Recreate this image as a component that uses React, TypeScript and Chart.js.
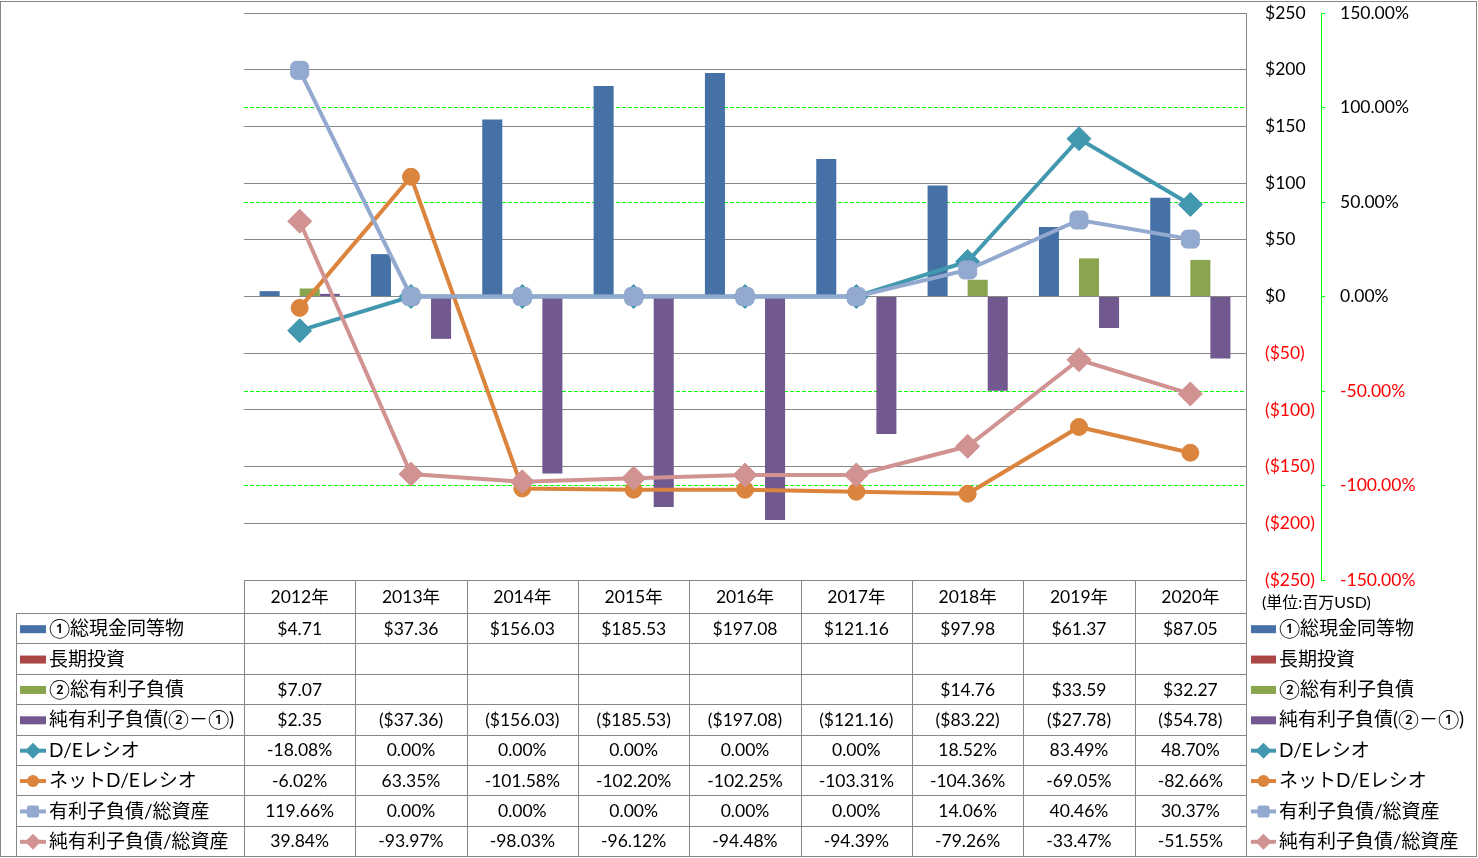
import React, { useEffect, useRef } from 'react';
import { Chart, registerables } from 'chart.js';

Chart.register(...registerables);

// ---------------- data ----------------
const categories = ['2012年', '2013年', '2014年', '2015年', '2016年', '2017年', '2018年', '2019年', '2020年'];

const seriesNames = [
  '①総現金同等物',
  '長期投資',
  '②総有利子負債',
  '純有利子負債(②－①)',
  'D/Eレシオ',
  'ネットD/Eレシオ',
  '有利子負債/総資産',
  '純有利子負債/総資産',
];

const cashEquivalents = [4.71, 37.36, 156.03, 185.53, 197.08, 121.16, 97.98, 61.37, 87.05];
const longTermInvestments: (number | null)[] = [null, null, null, null, null, null, null, null, null];
const totalDebt: (number | null)[] = [7.07, null, null, null, null, null, 14.76, 33.59, 32.27];
const netDebt = [2.35, -37.36, -156.03, -185.53, -197.08, -121.16, -83.22, -27.78, -54.78];

const deRatio = [-18.08, 0, 0, 0, 0, 0, 18.52, 83.49, 48.7];
const netDeRatio = [-6.02, 63.35, -101.58, -102.2, -102.25, -103.31, -104.36, -69.05, -82.66];
const debtToAssets = [119.66, 0, 0, 0, 0, 0, 14.06, 40.46, 30.37];
const netDebtToAssets = [39.84, -93.97, -98.03, -96.12, -94.48, -94.39, -79.26, -33.47, -51.55];

const dollarTicks = [-250, -200, -150, -100, -50, 0, 50, 100, 150, 200, 250];
const percentTicks = [-150, -100, -50, 0, 50, 100, 150];
const unitLabel = '(単位:百万USD)';

// ---------------- styles ----------------
const FONT = 'Lato, "Noto Sans CJK JP", sans-serif';
const GRID_GRAY = '#868686';
const GREEN = '#00FF00';
const colors = ['#4571A6', '#AA4643', '#89A54E', '#71588F', '#4198AF', '#DB843D', '#93A9CF', '#D19392'];
const pointStyles = ['rectRot', 'circle', 'rectRounded', 'rectRot'];
const pointRadii = [12, 8.5, 10.5, 12];

const fmtMoney = (v: number | null) =>
  v == null ? '' : v < 0 ? `($${(-v).toFixed(2)})` : `$${v.toFixed(2)}`;
const fmtPct = (v: number | null) => (v == null ? '' : `${v.toFixed(2)}%`);

const tableRows = [
  { kind: 'bar', values: cashEquivalents, fmt: fmtMoney },
  { kind: 'bar', values: longTermInvestments, fmt: fmtMoney },
  { kind: 'bar', values: totalDebt, fmt: fmtMoney },
  { kind: 'bar', values: netDebt, fmt: fmtMoney },
  { kind: 'line', values: deRatio, fmt: fmtPct },
  { kind: 'line', values: netDeRatio, fmt: fmtPct },
  { kind: 'line', values: debtToAssets, fmt: fmtPct },
  { kind: 'line', values: netDebtToAssets, fmt: fmtPct },
];

function drawMarker(ctx: CanvasRenderingContext2D, style: string, x: number, y: number, r: number, color: string) {
  ctx.fillStyle = color;
  ctx.beginPath();
  if (style === 'circle') {
    ctx.arc(x, y, r, 0, Math.PI * 2);
  } else if (style === 'rectRot') {
    ctx.moveTo(x, y - r);
    ctx.lineTo(x + r, y);
    ctx.lineTo(x, y + r);
    ctx.lineTo(x - r, y);
    ctx.closePath();
  } else {
    const s = r;
    ctx.roundRect(x - s, y - s, 2 * s, 2 * s, 2);
  }
  ctx.fill();
}

function drawKey(ctx: CanvasRenderingContext2D, idx: number, x0: number, x1: number, y: number) {
  const row = tableRows[idx];
  const color = colors[idx];
  if (row.kind === 'bar') {
    ctx.fillStyle = color;
    ctx.fillRect(x0, y - 4, x1 - x0, 8);
  } else {
    const li = idx - 4;
    ctx.strokeStyle = color;
    ctx.lineWidth = 4;
    ctx.beginPath();
    ctx.moveTo(x0, y);
    ctx.lineTo(x1, y);
    ctx.stroke();
    const st = pointStyles[li];
    const rr = st === 'rectRot' ? 8 : 6;
    drawMarker(ctx, st, (x0 + x1) / 2, y, rr, color);
  }
}

const tablePlugin = {
  id: 'dataTable',
  beforeDraw(chart: any) {
    const ctx = chart.ctx as CanvasRenderingContext2D;
    ctx.save();
    ctx.fillStyle = '#FFFFFF';
    ctx.fillRect(0, 0, chart.width, chart.height);
    ctx.restore();
  },
  afterDraw(chart: any) {
    const ctx = chart.ctx as CanvasRenderingContext2D;
    const a = chart.chartArea;
    const xs = chart.scales.x;
    const n = categories.length;
    const colW = (a.right - a.left) / n;
    const top = Math.round(a.bottom);
    const rowsTop = top + 33;
    const tableBottom = 856;
    const rowH = (tableBottom - rowsTop) / tableRows.length;
    const labelLeft = 16;

    ctx.save();
    ctx.strokeStyle = GRID_GRAY;
    ctx.lineWidth = 1;
    ctx.beginPath();
    ctx.moveTo(a.left, top + 0.5);
    ctx.lineTo(a.right, top + 0.5);
    for (let r = 0; r < tableRows.length; r++) {
      const y = Math.round(rowsTop + r * rowH) + 0.5;
      ctx.moveTo(labelLeft, y);
      ctx.lineTo(a.right, y);
    }
    for (let i = 0; i <= n; i++) {
      const x = Math.round(a.left + i * colW) + 0.5;
      ctx.moveTo(x, top);
      ctx.lineTo(x, tableBottom);
    }
    ctx.moveTo(labelLeft + 0.5, rowsTop);
    ctx.lineTo(labelLeft + 0.5, tableBottom);
    ctx.stroke();

    // outer border
    ctx.strokeRect(0.5, 1.5, 1476, 855);

    ctx.fillStyle = '#000000';
    ctx.textBaseline = 'middle';
    ctx.textAlign = 'center';
    ctx.font = `17.5px ${FONT}`;
    categories.forEach((c, i) => {
      ctx.fillText(c, xs.getPixelForValue(i), top + 17);
    });

    tableRows.forEach((row, r) => {
      const yc = rowsTop + (r + 0.5) * rowH + 1;
      ctx.textAlign = 'center';
      ctx.fillStyle = '#000000';
      ctx.font = `17.5px ${FONT}`;
      row.values.forEach((v: number | null, i: number) => {
        const t = row.fmt(v);
        if (t) ctx.fillText(t, xs.getPixelForValue(i), yc);
      });
      drawKey(ctx, r, 20, 46, yc);
      ctx.textAlign = 'left';
      ctx.fillStyle = '#000000';
      ctx.font = `19px ${FONT}`;
      ctx.fillText(seriesNames[r], 49, yc);
      drawKey(ctx, r, 1251, 1276, yc);
      ctx.fillStyle = '#000000';
      ctx.font = `19px ${FONT}`;
      ctx.fillText(seriesNames[r], 1279, yc);
    });

    ctx.textAlign = 'left';
    ctx.font = `16px ${FONT}`;
    ctx.fillText(unitLabel, 1262, 603);
    ctx.restore();
  },
};

export default function App() {
  const ref = useRef<HTMLCanvasElement | null>(null);

  useEffect(() => {
    document.body.style.margin = '0';
    const canvas = ref.current;
    if (!canvas) return;

    const barSets = [cashEquivalents, longTermInvestments, totalDebt, netDebt].map((d, i) => ({
      type: 'bar' as const,
      label: seriesNames[i],
      data: d,
      backgroundColor: colors[i],
      borderWidth: 0,
      yAxisID: 'y',
      order: 10 + i,
      categoryPercentage: 0.72,
      barPercentage: 1.0,
    }));

    const lineSets = [deRatio, netDeRatio, debtToAssets, netDebtToAssets].map((d, i) => ({
      type: 'line' as const,
      label: seriesNames[i + 4],
      data: d,
      borderColor: colors[i + 4],
      backgroundColor: colors[i + 4],
      borderWidth: 4,
      pointStyle: pointStyles[i],
      pointRadius: pointRadii[i],
      pointBackgroundColor: colors[i + 4],
      pointBorderColor: colors[i + 4],
      pointBorderWidth: 1,
      tension: 0,
      yAxisID: 'y1',
      order: 4 - i,
    }));

    const zeroPad = (s: any) => {
      s.paddingTop = 0;
      s.paddingBottom = 0;
    };

    const chart = new Chart(canvas, {
      type: 'bar',
      data: { labels: categories, datasets: [...barSets, ...lineSets] as any },
      plugins: [tablePlugin],
      options: {
        responsive: false,
        animation: false,
        layout: { padding: { left: 244, right: 17, top: 13, bottom: 278 } },
        plugins: { legend: { display: false }, tooltip: { enabled: false } },
        scales: {
          x: { display: false, offset: true },
          y: {
            position: 'right',
            weight: 0,
            min: -250,
            max: 250,
            afterBuildTicks: (s: any) => {
              s.ticks = dollarTicks.map((v) => ({ value: v }));
            },
            afterFit: (s: any) => {
              s.width = 75;
              zeroPad(s);
            },
            grid: { color: GRID_GRAY, lineWidth: 1, drawTicks: false },
            border: { display: true, color: GRID_GRAY, width: 1 },
            ticks: {
              padding: 19,
              font: { family: FONT, size: 17.5 },
              color: (c: any) => (c.tick && c.tick.value < 0 ? '#FF0000' : '#000000'),
              callback: (v: any) => (v < 0 ? `($${-v})` : `$${v}`),
            },
          },
          y1: {
            position: 'right',
            weight: 1,
            min: -150,
            max: 150,
            afterBuildTicks: (s: any) => {
              s.ticks = percentTicks.map((v) => ({ value: v }));
            },
            afterFit: (s: any) => {
              s.width = 140;
              zeroPad(s);
            },
            grid: {
              color: (c: any) =>
                c.tick && (c.tick.value === 0 || Math.abs(c.tick.value) === 150) ? 'rgba(0,0,0,0)' : GREEN,
              lineWidth: 1,
              drawTicks: true,
              tickLength: 4,
              tickColor: GREEN,
              tickBorderDash: [],
            },
            border: { display: true, color: GREEN, width: 1, dash: [4, 2] },
            ticks: {
              padding: 15,
              font: { family: FONT, size: 17.5 },
              color: (c: any) => (c.tick && c.tick.value < 0 ? '#FF0000' : '#000000'),
              callback: (v: any) => `${Number(v).toFixed(2)}%`,
            },
          },
        },
      } as any,
    });

    return () => chart.destroy();
  }, []);

  return (
    <div style={{ width: 1478, height: 858 }}>
      <canvas ref={ref} width={1478} height={858} style={{ display: 'block', width: 1478, height: 858 }} />
    </div>
  );
}
